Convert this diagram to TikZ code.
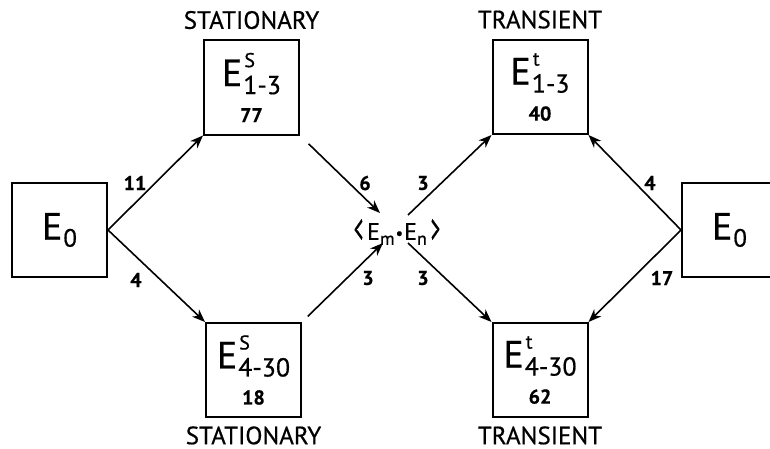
\documentclass[tikz,border=0pt]{standalone}
\usepackage{fontspec}
\setmainfont{PT Sans}[FakeBold=0.6]
\usepackage{graphicx}
\usetikzlibrary{arrows.meta,positioning,calc}
\newcommand{\lvl}[2]{{\fontsize{19}{19}\selectfont E}\rlap{\raisebox{9.5pt}{\fontsize{10}{10}\selectfont\kern1pt #1}}\raisebox{-4pt}{\fontsize{13}{13}\selectfont\kern0.5pt #2}}
\newcommand{\gnd}{{\fontsize{19}{19}\selectfont E}\raisebox{-3.5pt}{\fontsize{12.5}{12.5}\selectfont\kern0.5pt 0}}
\newcommand{\brk}[1]{\raisebox{-1.8pt}{\scalebox{0.75}[1.8]{#1}}}
\tikzset{
  lvlbox/.style={rectangle, draw, line width=1pt, minimum width=47.5pt, minimum height=47pt,
                 inner sep=0pt, align=center, font=\fontsize{19}{18}\selectfont},
  arr/.style={-{Stealth[length=6.5pt,width=5pt,inset=2pt]}, line width=0.8pt},
  num/.style={font=\fontsize{10}{10}\selectfont\bfseries, inner sep=0pt},
  tag/.style={font=\fontsize{12.5}{12.5}\selectfont, inner sep=0pt},
}
\begin{document}
\begin{tikzpicture}[x=0.5pt,y=-0.5pt,node distance=5pt]
  \clip (0,0) rectangle (770,449);
  \fill[white] (0,0) rectangle (770,449);
  % ground states
  \node[lvlbox] (g1) at (59.5,230) {\gnd};
  \node[lvlbox] (g2) at (729.5,230) {\gnd};
  % stationary and transient levels
  \node[lvlbox] (s13) at (251.5,87.5)
    {\lvl{S}{1-3}\\{\fontsize{10}{10}\selectfont\bfseries 77}};
  \node[lvlbox] (s430) at (253.5,370)
    {\lvl{S}{4-30}\\{\fontsize{10}{10}\selectfont\bfseries 18}};
  \node[lvlbox] (t13) at (540,87)
    {\lvl{t}{1-3}\\{\fontsize{10}{10}\selectfont\bfseries 40}};
  \node[lvlbox] (t430) at (540,370)
    {\lvl{t}{4-30}\\{\fontsize{10}{10}\selectfont\bfseries 62}};
  \node[tag, above=5pt of s13] (ts1) {STATIONARY};
  \node[tag, below=4pt of s430] (ts2) {STATIONARY};
  \node[tag, above=5pt of t13] (tt1) {TRANSIENT};
  \node[tag, below=4pt of t430] (tt2) {TRANSIENT};
  % intermediate pair
  \node[font=\fontsize{12}{12}\selectfont, inner sep=0pt] (mn) at (397,232)
    {\brk{<}\kern2pt E\raisebox{-2.5pt}{\fontsize{9}{9}\selectfont m}\kern0.5pt\raisebox{0.5pt}{\scalebox{0.7}{\textbullet}}\kern0.5pt E\raisebox{-2.5pt}{\fontsize{9}{9}\selectfont n}\kern2pt\brk{>}};
  \coordinate (mnNW) at ([shift={(-17,-19)}]mn.center);
  \coordinate (mnSW) at ([shift={(-14,11)}]mn.center);
  \coordinate (mnNE) at ([shift={(11,-17)}]mn.center);
  \coordinate (mnSE) at ([shift={(11,11)}]mn.center);
  % transitions
  \draw[arr] (g1.east) -- (s13.south west);
  \draw[arr] (g1.east) -- (s430.north west);
  \draw[arr, shorten <=6pt] (s13.south east) -- (mnNW);
  \draw[arr, shorten <=4pt] (s430.north east) -- (mnSW);
  \draw[arr] (mnNE) -- (t13.south west);
  \draw[arr] (mnSE) -- (t430.north west);
  \draw[arr] (g2.west) -- (t13.south east);
  \draw[arr] (g2.west) -- (t430.north east);
  % rates
  \node[num] (r1) at (135,183) {11};
  \node[num] (r2) at (136,280) {4};
  \node[num] (r3) at (365,183) {6};
  \node[num] (r4) at (368,278) {3};
  \node[num] (r5) at (423,183) {3};
  \node[num] (r6) at (423,278) {3};
  \node[num] (r7) at (650,183) {4};
  \node[num] (r8) at (662,278) {17};
\end{tikzpicture}
\end{document}
